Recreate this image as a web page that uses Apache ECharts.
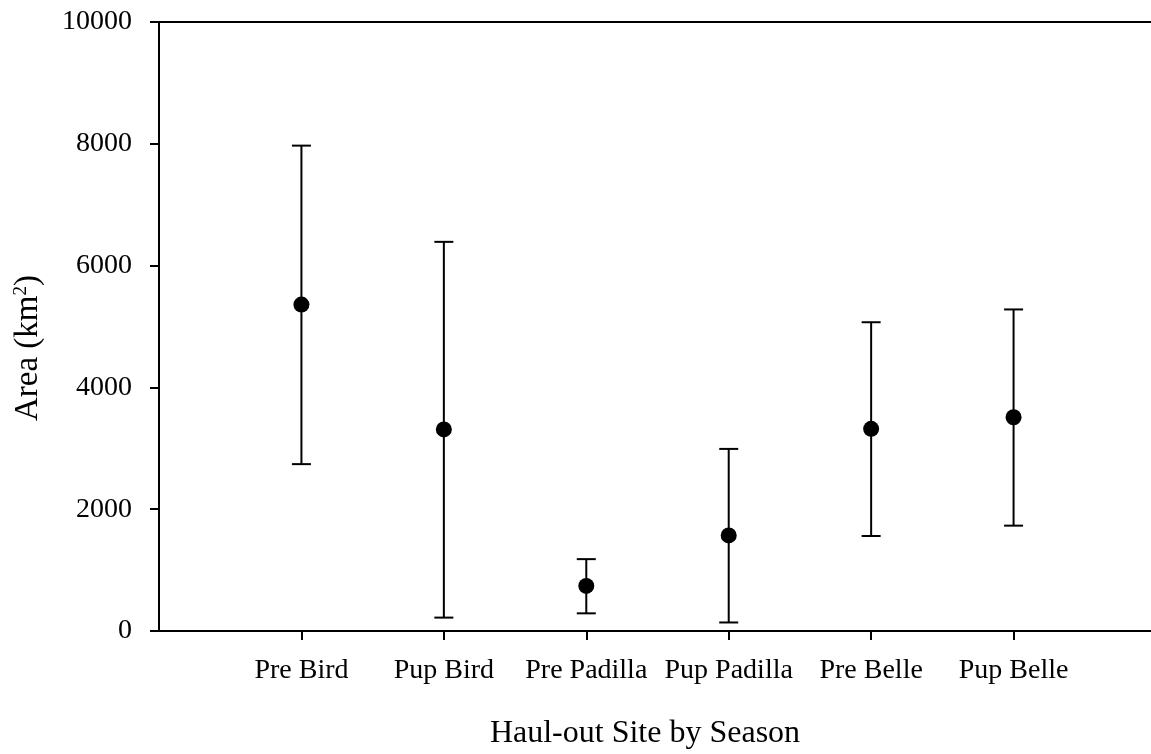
<!DOCTYPE html>
<html><head><meta charset="utf-8">
<script src="https://cdn.jsdelivr.net/npm/echarts@6/dist/echarts.min.js"></script>
<style>html,body{margin:0;padding:0;background:#fff}#c{width:1151px;height:754px}</style>
</head><body><div id="c"></div>
<script>
const categories = ['Pre Bird', 'Pup Bird', 'Pre Padilla', 'Pup Padilla', 'Pre Belle', 'Pup Belle'];
const meanArea  = [5360, 3310, 740, 1570, 3320, 3510];
const lowerArea = [2740, 220, 290, 140, 1560, 1730];
const upperArea = [7970, 6390, 1180, 2990, 5070, 5280];
const yTickStep = 2000;
const yMax = 10000;
const xTitle = 'Haul-out Site by Season';

const FONT = '"Liberation Serif", "Times New Roman", serif';
const chart = echarts.init(document.getElementById('c'), null, {renderer: 'canvas'});

const pointData = categories.map((c, i) => [i + 1, meanArea[i]]);
const errData = categories.map((c, i) => [i + 1, lowerArea[i], upperArea[i]]);

function renderErr(params, api) {
  const x = api.value(0);
  const lo = api.coord([x, api.value(1)]);
  const hi = api.coord([x, api.value(2)]);
  const half = 9.5;
  const st = {stroke: '#000', lineWidth: 2, fill: null};
  return {type: 'group', children: [
    {type: 'line', shape: {x1: lo[0], y1: lo[1], x2: hi[0], y2: hi[1]}, style: st},
    {type: 'line', shape: {x1: lo[0] - half, y1: lo[1], x2: lo[0] + half, y2: lo[1]}, style: st},
    {type: 'line', shape: {x1: hi[0] - half, y1: hi[1], x2: hi[0] + half, y2: hi[1]}, style: st}
  ]};
}

chart.setOption({
  animation: false,
  backgroundColor: '#fff',
  grid: {left: 159, top: 22, width: 997, height: 609, show: true, borderColor: '#000', borderWidth: 2,
         containLabel: false, outerBoundsMode: 'none'},
  xAxis: {
    type: 'value', min: 0, max: categories.length + 1, interval: 1,
    axisLine: {show: true, lineStyle: {color: '#000', width: 2}},
    axisTick: {show: true, length: 9, lineStyle: {color: '#000', width: 2}},
    splitLine: {show: false},
    axisLabel: {
      margin: 26, color: '#000', fontFamily: FONT, fontSize: 28,
      showMinLabel: false, showMaxLabel: false, hideOverlap: false,
      formatter: v => (v >= 1 && v <= categories.length) ? categories[v - 1] : ''
    }
  },
  yAxis: {
    type: 'value', min: 0, max: yMax, interval: yTickStep,
    axisLine: {show: true, lineStyle: {color: '#000', width: 2}},
    axisTick: {show: true, length: 9, lineStyle: {color: '#000', width: 2}},
    splitLine: {show: false},
    axisLabel: {margin: 27, color: '#000', fontFamily: FONT, fontSize: 28, formatter: v => String(v)}
  },
  graphic: [
    {type: 'text', x: 645, y: 734, style: {text: xTitle, fill: '#000', font: '32px ' + FONT, textAlign: 'center', textVerticalAlign: 'middle'}},
    {type: 'text', x: 28, y: 348, rotation: Math.PI / 2,
      style: {text: '{a|Area (km}{s|2}{a|)}', textAlign: 'center', textVerticalAlign: 'middle',
        rich: {
          a: {fontFamily: FONT, fontSize: 33, fill: '#000', color: '#000', lineHeight: 33},
          s: {fontFamily: FONT, fontSize: 19, fill: '#000', color: '#000', verticalAlign: 'top', lineHeight: 33}
        }}}
  ],
  series: [
    {type: 'custom', data: errData, renderItem: renderErr, encode: {x: 0, y: [1, 2]}, z: 2, silent: true},
    {type: 'scatter', data: pointData, symbol: 'circle', symbolSize: 16, itemStyle: {color: '#000', opacity: 1}, z: 3, silent: true}
  ]
});
</script>
</body></html>
